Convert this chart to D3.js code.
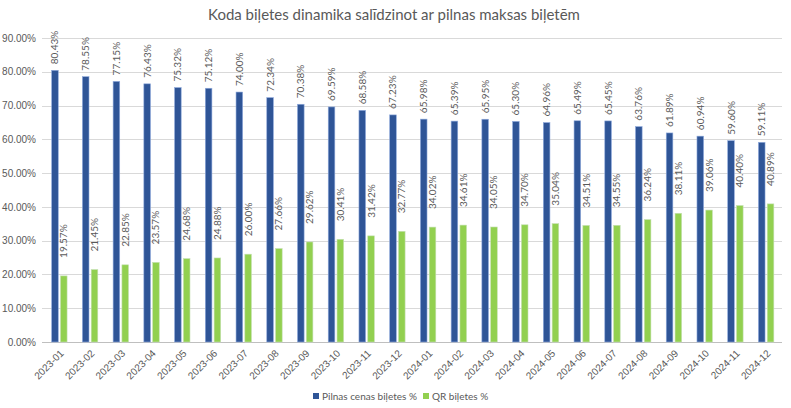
<!DOCTYPE html>
<html><head><meta charset="utf-8">
<script src="https://cdn.jsdelivr.net/npm/d3@7"></script>
<style>
html,body{margin:0;padding:0;background:#fff;}
svg{display:block;font-family:Lato,"Liberation Sans",Arial,sans-serif;}
</style></head>
<body><svg id="c" width="791" height="408"></svg>
<script>
const categories = ["2023-01","2023-02","2023-03","2023-04","2023-05","2023-06","2023-07","2023-08","2023-09","2023-10","2023-11","2023-12","2024-01","2024-02","2024-03","2024-04","2024-05","2024-06","2024-07","2024-08","2024-09","2024-10","2024-11","2024-12"];
const fullPrice = [80.43,78.55,77.15,76.43,75.32,75.12,74.00,72.34,70.38,69.59,68.58,67.23,65.98,65.39,65.95,65.30,64.96,65.49,65.45,63.76,61.89,60.94,59.60,59.11];
const qrTickets = [19.57,21.45,22.85,23.57,24.68,24.88,26.00,27.66,29.62,30.41,31.42,32.77,34.02,34.61,34.05,34.70,35.04,34.51,34.55,36.24,38.11,39.06,40.40,40.89];
const seriesNames = ["Pilnas cenas biļetes %","QR biļetes %"];
const yTicks = [0,10,20,30,40,50,60,70,80,90];
const title = "Koda biļetes dinamika salīdzinot ar pilnas maksas biļetēm";

const colors = ["#2F5597","#92D050"];
const textColor = "#595959";
const svg = d3.select("#c");

const x = d3.scaleBand().domain(categories).range([44,781.5]).padding(0);
const y = d3.scaleLinear().domain([0,90]).range([342,38]);

// title
svg.append("text").attr("x",394).attr("y",20).attr("text-anchor","middle")
  .attr("font-size",15).attr("fill",textColor).text(title);

// grid
svg.append("g").selectAll("line").data(yTicks).join("line")
  .attr("x1",42).attr("x2",782).attr("y1",d=>Math.round(y(d))+0.5).attr("y2",d=>Math.round(y(d))+0.5)
  .attr("stroke",d=>d===0?"#bfbfbf":"#d9d9d9").attr("stroke-width",1);

// y axis labels
const yAxis = d3.axisLeft(y).tickValues(yTicks).tickFormat(d=>d.toFixed(2)+"%").tickSize(0).tickPadding(0);
const gy = svg.append("g").attr("transform","translate(36,0)").call(yAxis);
gy.select(".domain").remove();
gy.selectAll("text").attr("font-size",10).attr("fill",textColor).attr("font-family",null);

const bw = x.bandwidth();
const barW = 6.6, gap = 2.2;
const series = [fullPrice, qrTickets];
series.forEach((vals,si)=>{
  const off = si===0 ? bw/2 - gap/2 - barW : bw/2 + gap/2;
  const g = svg.append("g");
  g.selectAll("rect").data(vals).join("rect")
    .attr("x",(d,i)=>x(categories[i])+off)
    .attr("y",d=>y(d))
    .attr("width",barW)
    .attr("height",d=>y(0)-y(d))
    .attr("fill",colors[si])
    .attr("stroke", si===0 ? "#8faadc" : "#c5e0b4").attr("stroke-width",0.6);
  const lblGap = si===0 ? 6 : 18;
  g.selectAll("text").data(vals).join("text")
    .attr("transform",(d,i)=>`translate(${x(categories[i])+off+barW/2+3.5},${y(d)-lblGap}) rotate(-90)`)
    .attr("font-size",10).attr("fill",textColor)
    .text(d=>d.toFixed(2)+"%");
});

// x axis labels
const xAxis = d3.axisBottom(x).tickSize(0).tickPadding(0);
const gx = svg.append("g").attr("transform","translate(0,342)").call(xAxis);
gx.select(".domain").remove();
gx.selectAll("text").attr("font-size",10).attr("fill",textColor).attr("font-family",null)
  .attr("text-anchor","end").attr("dy",null).attr("y",0)
  .attr("transform","translate(5,12) rotate(-45)");

// legend
const leg = svg.append("g").attr("transform","translate(0,397)");
const legX = [313,423];
seriesNames.forEach((n,i)=>{
  leg.append("rect").attr("x",legX[i]).attr("y",-4).attr("width",6).attr("height",6).attr("fill",colors[i]);
  leg.append("text").attr("x",legX[i]+9).attr("y",3).attr("font-size",10).attr("fill",textColor).text(n);
});
</script></body></html>
